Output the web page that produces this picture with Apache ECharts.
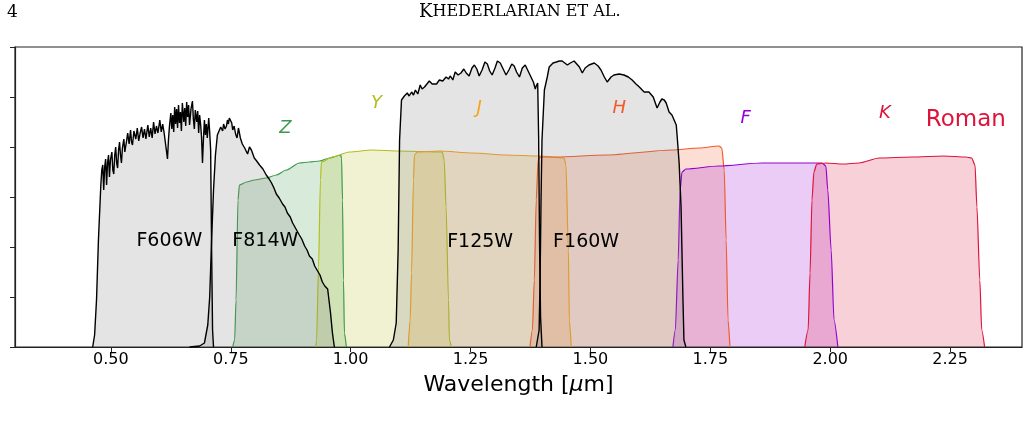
<!DOCTYPE html>
<html>
<head>
<meta charset="utf-8">
<title>Filter curves</title>
<script src="https://cdn.jsdelivr.net/npm/echarts@6/dist/echarts.min.js"></script>
<style>
  html, body { margin: 0; padding: 0; background: #fff; }
  #chart { width: 1029px; height: 424px; }
</style>
</head>
<body>
<div id="chart"></div>
<script>
// wavelength in micron, throughput in arbitrary % units
const xTicks = [0.50, 0.75, 1.00, 1.25, 1.50, 1.75, 2.00, 2.25];

const f606w = [
  [0.462, 0], [0.466, 2.4], [0.470, 9.4], [0.474, 21.4], [0.479, 32.4], [0.481, 35.4],
  [0.483, 36.4], [0.485, 31.4], [0.487, 36.0], [0.489, 37.6], [0.491, 32.4], [0.493, 36.8],
  [0.495, 38.4], [0.497, 34.0], [0.499, 37.4], [0.502, 39.0], [0.504, 35.4], [0.506, 34.6],
  [0.508, 38.4], [0.510, 40.0], [0.512, 36.8], [0.514, 35.8], [0.516, 39.4], [0.518, 41.0],
  [0.520, 38.4], [0.522, 36.8], [0.524, 39.8], [0.527, 41.6], [0.529, 39.0], [0.531, 38.6],
  [0.533, 41.4], [0.535, 42.8], [0.538, 40.6], [0.541, 43.4], [0.543, 41.0], [0.545, 40.4],
  [0.548, 43.2], [0.552, 41.6], [0.555, 43.8], [0.558, 41.2], [0.561, 42.8], [0.564, 44.0],
  [0.567, 41.8], [0.570, 43.6], [0.573, 41.6], [0.577, 44.4], [0.580, 42.0], [0.583, 43.8],
  [0.586, 41.8], [0.589, 45.0], [0.592, 42.6], [0.595, 44.2], [0.598, 42.8], [0.602, 45.4],
  [0.605, 43.0], [0.608, 44.6], [0.611, 42.8], [0.614, 40.6], [0.618, 37.6], [0.620, 41.4],
  [0.622, 44.0], [0.625, 46.8], [0.627, 43.6], [0.629, 46.4], [0.631, 43.0], [0.633, 48.0],
  [0.635, 44.6], [0.637, 47.6], [0.639, 43.8], [0.641, 48.4], [0.643, 44.8], [0.645, 47.0],
  [0.647, 43.2], [0.649, 48.8], [0.652, 45.0], [0.654, 47.8], [0.656, 44.2], [0.658, 49.0],
  [0.660, 46.0], [0.662, 48.4], [0.664, 44.4], [0.667, 47.6], [0.670, 49.2], [0.672, 45.6],
  [0.674, 43.6], [0.676, 47.4], [0.679, 45.0], [0.681, 47.2], [0.683, 42.8], [0.685, 46.4],
  [0.687, 44.6], [0.689, 42.0], [0.691, 36.8], [0.693, 41.6], [0.695, 45.4], [0.697, 42.4],
  [0.699, 44.6], [0.701, 41.8], [0.704, 45.8], [0.706, 43.0], [0.708, 39.4], [0.710, 19.4],
  [0.712, 3.4], [0.714, 0]
];
const f814w = [
  [0.664, 0], [0.685, 0.2], [0.695, 0.8], [0.702, 4.4], [0.706, 10.0], [0.710, 21.4],
  [0.714, 31.4], [0.718, 38.4], [0.722, 42.4], [0.729, 44.0], [0.733, 43.2], [0.735, 44.6],
  [0.738, 43.6], [0.741, 44.2], [0.743, 45.4], [0.745, 44.6], [0.747, 45.8], [0.749, 46.0],
  [0.752, 44.8], [0.754, 43.4], [0.757, 44.2], [0.760, 42.6], [0.763, 41.8], [0.766, 43.8],
  [0.770, 41.8], [0.774, 40.6], [0.779, 39.8], [0.785, 38.6], [0.789, 40.0], [0.793, 39.4],
  [0.799, 37.8], [0.804, 37.2], [0.810, 36.4], [0.817, 35.6], [0.824, 34.4], [0.830, 33.6],
  [0.835, 32.8], [0.840, 31.8], [0.845, 30.6], [0.851, 29.8], [0.858, 28.6], [0.863, 28.0],
  [0.868, 26.8], [0.874, 26.0], [0.879, 24.8], [0.886, 23.6], [0.893, 22.4], [0.898, 21.6],
  [0.904, 20.2], [0.909, 19.4], [0.914, 18.2], [0.920, 17.6], [0.925, 16.2], [0.931, 15.2],
  [0.936, 14.4], [0.941, 13.0], [0.946, 12.2], [0.952, 11.6], [0.956, 11.4], [0.958, 6.8],
  [0.962, 2.8], [0.966, 0]
];
const f125w = [
  [1.081, 0], [1.089, 1.4], [1.095, 4.8], [1.099, 19.4], [1.102, 41.4], [1.106, 49.4],
  [1.112, 50.2], [1.118, 50.8], [1.122, 50.2], [1.127, 51.0], [1.131, 50.4], [1.135, 51.4],
  [1.140, 50.6], [1.145, 52.4], [1.149, 51.6], [1.154, 52.0], [1.158, 51.6], [1.164, 53.2],
  [1.170, 52.6], [1.174, 53.0], [1.179, 52.6], [1.185, 53.4], [1.192, 53.2], [1.199, 54.0],
  [1.204, 53.6], [1.208, 54.2], [1.213, 53.4], [1.218, 55.0], [1.224, 54.4], [1.230, 54.8],
  [1.236, 55.6], [1.241, 54.8], [1.247, 54.2], [1.253, 55.8], [1.258, 56.4], [1.263, 55.6],
  [1.268, 54.2], [1.274, 55.4], [1.280, 57.0], [1.285, 56.6], [1.290, 55.2], [1.295, 54.4],
  [1.301, 55.8], [1.306, 57.2], [1.312, 56.8], [1.318, 55.6], [1.324, 54.4], [1.330, 55.4],
  [1.336, 56.6], [1.341, 56.2], [1.346, 55.0], [1.352, 54.0], [1.358, 55.8], [1.364, 56.4],
  [1.370, 55.2], [1.376, 54.0], [1.381, 53.0], [1.385, 51.6], [1.387, 52.2], [1.390, 52.8],
  [1.392, 42.0], [1.394, 20.0], [1.396, 6.0], [1.399, 0]
];
const f160w = [
  [1.387, 0], [1.393, 3.4], [1.395, 13.4], [1.397, 29.4], [1.399, 41.4], [1.404, 51.4],
  [1.410, 54.0], [1.414, 56.0], [1.422, 56.8], [1.429, 57.0], [1.435, 57.2], [1.441, 57.2],
  [1.452, 56.4], [1.458, 56.8], [1.466, 57.2], [1.477, 56.0], [1.483, 54.8], [1.489, 55.8],
  [1.497, 56.4], [1.508, 56.8], [1.516, 56.2], [1.522, 55.4], [1.529, 54.0], [1.535, 53.0],
  [1.543, 54.0], [1.549, 54.4], [1.560, 54.6], [1.570, 54.4], [1.579, 54.0], [1.587, 53.4],
  [1.595, 52.6], [1.602, 52.0], [1.612, 51.0], [1.622, 51.0], [1.631, 50.0], [1.639, 47.8],
  [1.645, 49.0], [1.649, 49.6], [1.654, 49.4], [1.658, 48.8], [1.664, 47.0], [1.670, 46.4],
  [1.674, 46.0], [1.679, 44.4], [1.681, 42.0], [1.685, 36.8], [1.689, 28.0], [1.693, 9.4],
  [1.695, 1.4], [1.699, 0]
];

const romanZ = [
  [0.754, 0], [0.758, 1.4], [0.761, 9.4], [0.765, 29.4], [0.768, 32.4], [0.783, 33.0],
  [0.799, 33.4], [0.824, 33.8], [0.845, 34.4], [0.866, 35.4], [0.893, 36.8], [0.914, 37.0],
  [0.935, 37.2], [0.956, 37.8], [0.979, 38.4], [0.981, 37.8], [0.983, 29.4], [0.985, 13.4],
  [0.987, 2.8], [0.991, 0]
];
const romanY = [
  [0.927, 0], [0.929, 1.4], [0.933, 16.0], [0.937, 33.4], [0.939, 37.0], [0.962, 38.0],
  [0.997, 39.0], [1.045, 39.4], [1.102, 39.2], [1.191, 39.0], [1.195, 37.4], [1.199, 28.0],
  [1.204, 9.4], [1.206, 1.4], [1.210, 0]
];
const romanJ = [
  [1.120, 0], [1.124, 5.4], [1.127, 14.8], [1.131, 33.4], [1.133, 38.4], [1.139, 39.0],
  [1.185, 39.2], [1.254, 38.8], [1.324, 38.4], [1.393, 38.2], [1.445, 37.8], [1.449, 36.4],
  [1.454, 19.4], [1.456, 5.4], [1.460, 0]
];
const romanH = [
  [1.374, 0], [1.379, 3.4], [1.383, 13.4], [1.387, 29.4], [1.391, 37.4], [1.395, 38.0],
  [1.429, 38.0], [1.533, 38.4], [1.670, 39.4], [1.727, 39.8], [1.768, 40.2], [1.774, 39.8],
  [1.779, 35.4], [1.783, 21.4], [1.787, 5.4], [1.791, 0]
];
const romanF = [
  [1.672, 0], [1.677, 3.4], [1.683, 17.4], [1.687, 31.4], [1.691, 35.0], [1.699, 35.6],
  [1.768, 36.2], [1.858, 36.8], [1.962, 36.8], [1.983, 36.8], [1.991, 36.2], [1.995, 31.4],
  [2.002, 19.4], [2.008, 5.4], [2.016, 0]
];
const romanK = [
  [1.947, 0], [1.954, 3.4], [1.958, 14.8], [1.962, 29.4], [1.966, 35.0], [1.972, 36.6],
  [1.991, 36.8], [2.027, 36.6], [2.060, 36.8], [2.102, 37.8], [2.170, 38.0], [2.237, 38.2],
  [2.283, 38.0], [2.295, 37.8], [2.302, 36.4], [2.306, 28.0], [2.312, 13.4], [2.316, 3.4],
  [2.322, 0]
];

const hstNames = ['F606W', 'F814W', 'F125W', 'F160W'];
const hstCurves = [f606w, f814w, f125w, f160w];
const romanNames = ['Z', 'Y', 'J', 'H', 'F', 'K'];
const romanCurves = [romanZ, romanY, romanJ, romanH, romanF, romanK];
const romanColors = ['#3c9a4c', '#b3bf1c', '#f7a21c', '#f25a28', '#9400d3', '#dc143c'];

// label anchors [wavelength, throughput]
const hstLabelPos = [[0.622, 21.2], [0.822, 21.2], [1.270, 21.0], [1.491, 21.0]];
const romanLabelPos = [[0.864, 43.8], [1.054, 48.8], [1.268, 47.8], [1.560, 47.8], [1.824, 45.8], [2.114, 46.8]];
const romanTitlePos = [2.283, 45.4];

const chart = echarts.init(document.getElementById('chart'));

const series = [];
romanCurves.forEach((d, i) => {
  series.push({
    name: romanNames[i], type: 'line', data: d, showSymbol: false,
    smooth: 0.25, smoothMonotone: 'x',
    lineStyle: { color: romanColors[i], width: 1.2 },
    areaStyle: { color: romanColors[i], opacity: 0.2 },
    z: 2
  });
});
hstCurves.forEach((d, i) => {
  series.push({
    name: hstNames[i], type: 'line', data: d, showSymbol: false,
    lineStyle: { color: '#000', width: 1.4 },
    areaStyle: { color: '#808080', opacity: 0.21 },
    z: 3
  });
});

const labelData = [];
hstNames.forEach((n, i) => labelData.push({
  value: hstLabelPos[i], name: n,
  label: { color: '#000', fontSize: 19 }
}));
romanNames.forEach((n, i) => labelData.push({
  value: romanLabelPos[i], name: n,
  label: { color: romanColors[i], fontSize: 18, fontStyle: 'italic' }
}));
labelData.push({ value: romanTitlePos, name: 'Roman', label: { color: '#dc143c', fontSize: 23 } });

series.push({
  type: 'scatter', data: labelData, symbolSize: 0, silent: true, z: 5,
  itemStyle: { opacity: 1 },
  label: {
    show: true, position: 'inside', formatter: p => p.name,
    fontFamily: 'DejaVu Sans', align: 'center', verticalAlign: 'middle',
    textBorderWidth: 0, textBorderColor: 'transparent'
  }
});

chart.setOption({
  animation: false,
  grid: {
    left: 15, right: 7, top: 47, bottom: 77,
    show: true, borderColor: '#222', borderWidth: 1.2, backgroundColor: 'transparent'
  },
  graphic: [
    {
      type: 'text', left: 7, top: 4,
      style: { text: '4', font: '17px "DejaVu Serif"', fill: '#000' }
    },
    {
      type: 'text', left: 419, top: 3,
      style: {
        text: '{a|K}{b|HEDERLARIAN ET AL.}',
        rich: {
          a: { fontFamily: 'DejaVu Serif', fontSize: 18, fill: '#000', color: '#000' },
          b: { fontFamily: 'DejaVu Serif', fontSize: 16, fill: '#000', color: '#000' }
        }
      }
    }
  ],
  xAxis: {
    type: 'value', min: 0.3, max: 2.4,
    name: '{r|Wavelength [}{i|μ}{r|m]}',
    nameLocation: 'middle', nameGap: 27,
    nameTextStyle: {
      rich: {
        r: { fontFamily: 'DejaVu Sans', fontSize: 22, color: '#000' },
        i: { fontFamily: 'DejaVu Sans', fontSize: 22, fontStyle: 'italic', color: '#000' }
      }
    },
    axisLine: { show: true, lineStyle: { color: '#222', width: 1.2 } },
    axisTick: { show: true, customValues: xTicks, length: 5, lineStyle: { color: '#222' } },
    axisLabel: {
      customValues: xTicks, formatter: v => v.toFixed(2),
      fontFamily: 'DejaVu Sans', fontSize: 16, color: '#000', margin: 5
    },
    splitLine: { show: false }
  },
  yAxis: {
    type: 'value', min: 0, max: 60, interval: 10,
    axisLine: { show: true, lineStyle: { color: '#222', width: 1.2 } },
    axisTick: { show: true, length: 5, lineStyle: { color: '#222' } },
    axisLabel: { show: false },
    splitLine: { show: false }
  },
  series: series
});
</script>
</body>
</html>
